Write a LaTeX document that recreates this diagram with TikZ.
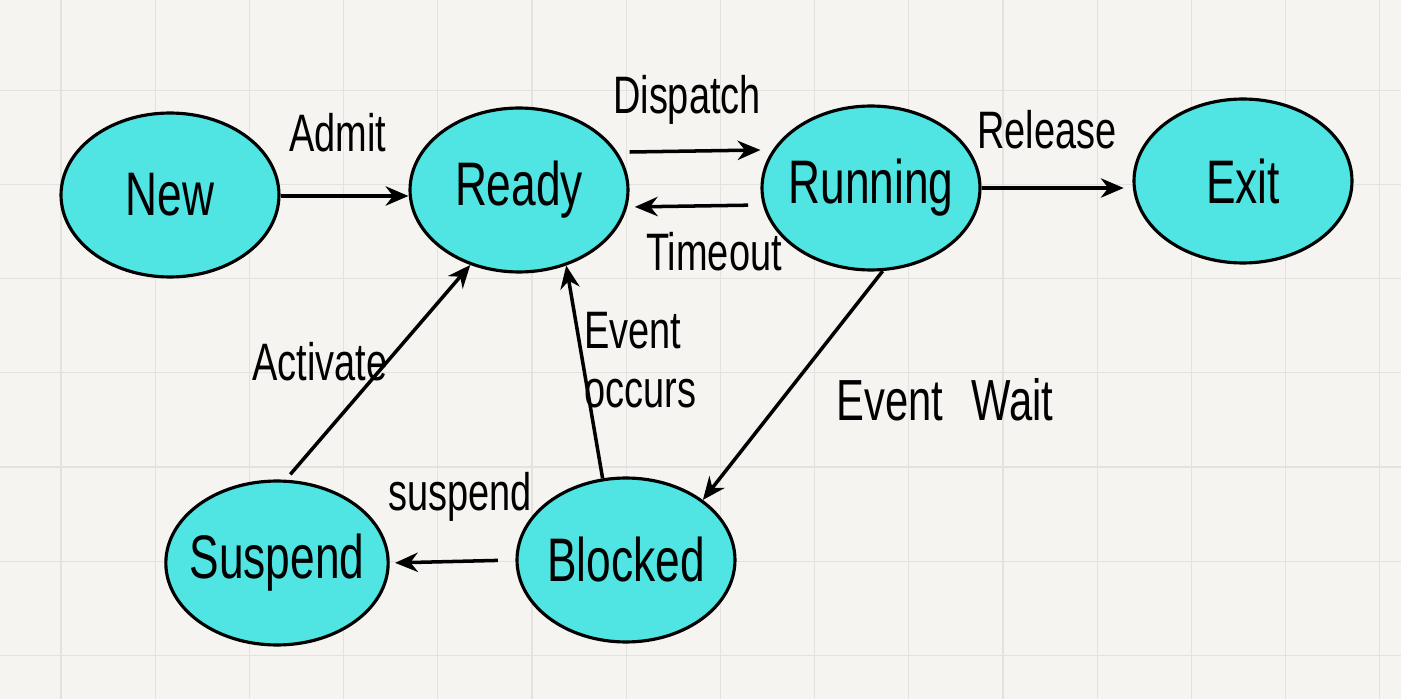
\documentclass[tikz,border=0pt]{standalone}
\usepackage{fontspec}
\setmainfont{Liberation Sans}[FakeStretch=0.72]
\usetikzlibrary{shapes.geometric,arrows.meta}
\definecolor{paper}{RGB}{246,244,241}
\definecolor{gridgrey}{RGB}{228,226,223}
\definecolor{statecyan}{RGB}{80,228,226}
\begin{document}
\begin{tikzpicture}[x=0.02cm, y=-0.02cm,
  state/.style={shape=ellipse, draw=black, line width=1.8pt, fill=statecyan,
    minimum width=4.36cm, minimum height=3.28cm, inner sep=-5pt,
    font=\fontsize{35}{40}\selectfont},
  lbl/.style={font=\fontsize{30}{34}\selectfont, inner sep=0pt, align=left},
  trans/.style={-{Stealth[length=13pt,width=11pt]}, line width=2pt}]
% paper and grid
\fill[paper] (0,0) rectangle (1401,699);
\useasboundingbox (0,0) rectangle (1401,699);
\foreach \i in {0,...,14} \draw[gridgrey, line width=0.6pt] ({61+94.2*\i},0) -- ({61+94.2*\i},699);
\foreach \j in {0,...,7} \draw[gridgrey, line width=0.6pt] (0,{-4+94.2*\j}) -- (1401,{-4+94.2*\j});
% states
\node[state] (new) at (170,195) {New};
\node[state] (ready) at (519,190) {Ready};
\node[state] (running) at (871,188) {Running};
\node[state] (exit) at (1243,181) {Exit};
\node[state] (blocked) at (626,560) {Blocked};
\node[state] (suspend) at (277,563) {Suspend};
% labels
\node[lbl] (admit) at (338,133) {Admit};
\node[lbl] (dispatch) at (687,100) {Dispatch};
\node[lbl] (timeout) at (714,252) {Timeout};
\node[lbl] (release) at (1047,130) {Release};
\node[lbl, font=\fontsize{33}{36}\selectfont] (eventwait) at (945,400) {Event\hspace{16pt}Wait};
\node[lbl, anchor=west] (occurs) at (584,360) {Event\\occurs};
\node[lbl] (activate) at (320,362) {Activate};
\node[lbl] (suspendlbl) at (460,497) {suspend};
% transitions
\path [trans] ([yshift=-0.02cm]new.east) edge ([yshift=-0.02cm]new.east -| ready.west);
\path [trans] ([yshift=0.76cm]ready.east) edge ([yshift=0.76cm]running.west);
\path [trans, shorten <=7pt, shorten >=3pt] ([yshift=-0.34cm]running.west) edge ([yshift=-0.34cm]ready.east);
\path [trans, shorten >=5pt] (running.east) edge (running.east -| exit.west);
\path [trans] (running.-82) edge (blocked.38);
\path [trans] (blocked.106) edge (ready.-58);
\path [trans, shorten <=4pt] (suspend.84) edge (ready.-123);
\path [trans, shorten <=10pt, shorten >=3pt] (blocked.west) edge (suspend.east);
\end{tikzpicture}
\end{document}
